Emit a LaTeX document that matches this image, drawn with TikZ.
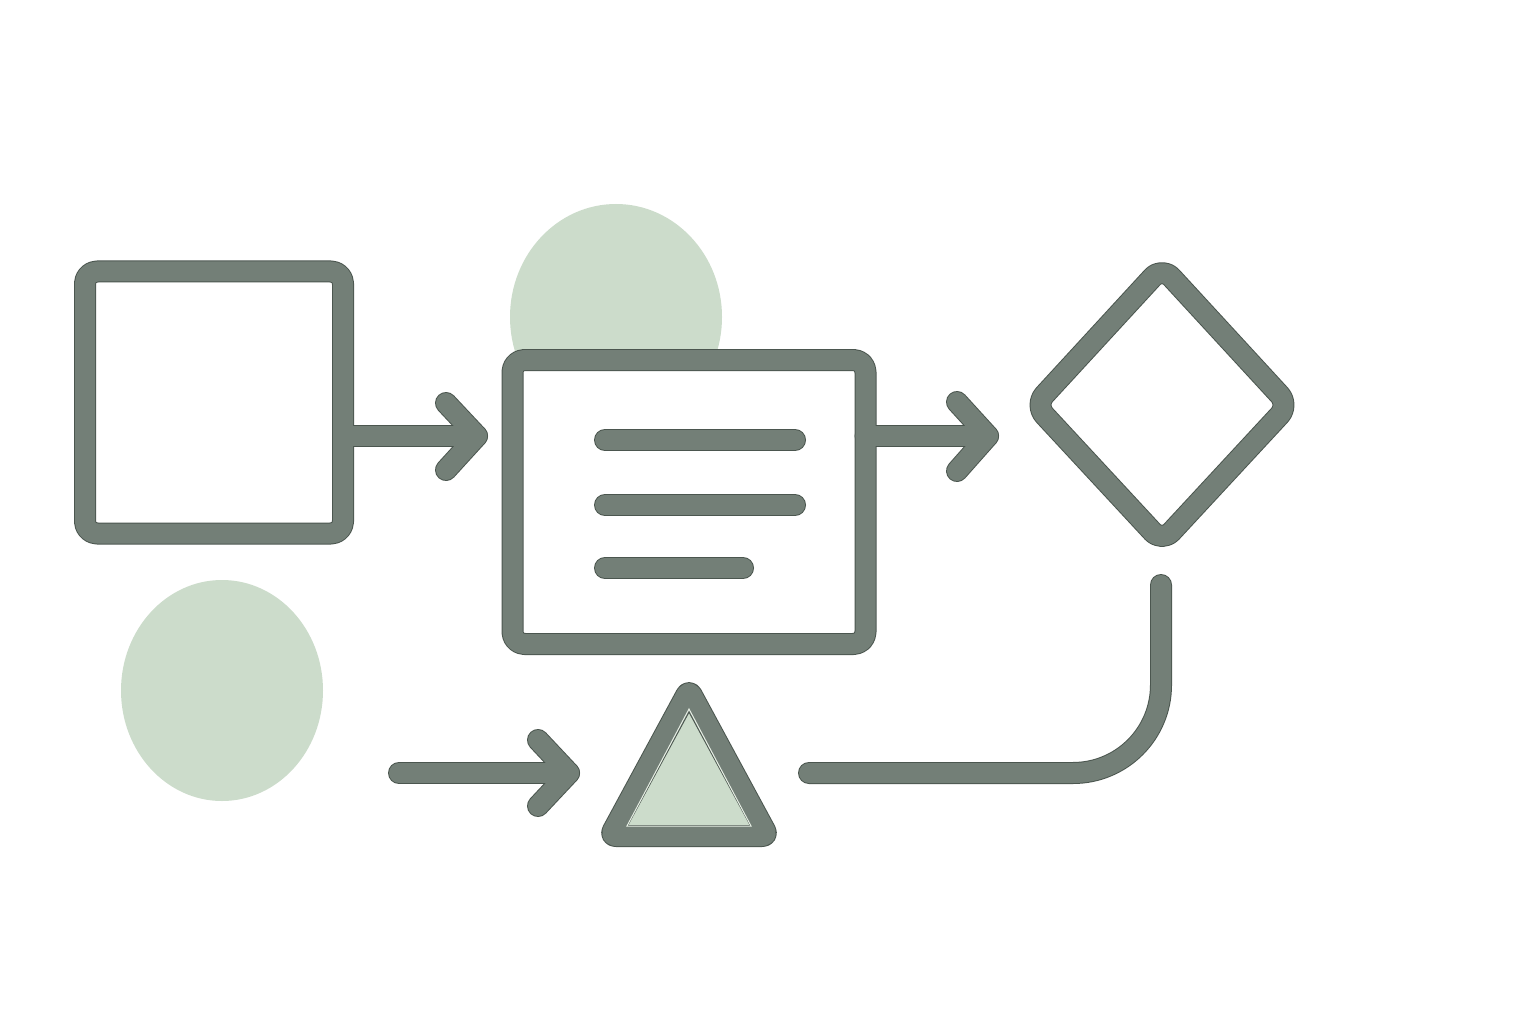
\documentclass[tikz,border=0pt]{standalone}
\usetikzlibrary{calc,shapes.geometric}
\definecolor{strk}{HTML}{737F77}
\definecolor{edge}{HTML}{4B564F}
\definecolor{leaf}{HTML}{CCDCCB}
\definecolor{pale}{HTML}{E6EEE4}
\tikzset{
  outerpass/.style={draw=edge,line width=22pt,line cap=round,line join=round},
  innerpass/.style={draw=strk,line width=20pt,line cap=round,line join=round},
  frame/.style={rectangle,inner sep=0pt,outer sep=0pt,draw=none},
  blob/.style={ellipse,fill=leaf,draw=none,inner sep=0pt,outer sep=0pt},
}
\newcommand\allstrokes[1]{%
  % boxes
  \draw[#1,rounded corners=12pt] (box1.north west) rectangle (box1.south east);
  \draw[#1,rounded corners=12pt] (box2.north west) rectangle (box2.south east);
  % text bars
  \draw[#1] (barA1) -- (barA2);
  \draw[#1] (barB1) -- (barB2);
  \draw[#1] (barC1) -- (barC2);
  % arrow box1 -> box2
  \draw[#1] (box1.east |- tipA) -- (tipA);
  \draw[#1] (chA1) -- (tipA) -- (chA2);
  % arrow box2 -> diamond
  \draw[#1] (box2.east |- tipB) -- (tipB);
  \draw[#1] (chB1) -- (tipB) -- (chB2);
  % diamond
  \draw[#1,rounded corners=14pt] (diaT) -- (diaR) -- (diaB) -- (diaL) -- cycle;
  % arrow to triangle
  \draw[#1] (startC) -- (tipC);
  \draw[#1] (chC1) -- (tipC) -- (chC2);
  % triangle
  \draw[#1,rounded corners=6pt] (triL) -- (triA) -- (triR) -- cycle;
  % return line
  \draw[#1,rounded corners=88pt] (lineS) -| (lineE);
}
\begin{document}
\begin{tikzpicture}[x=1pt,y=-1pt]
  \useasboundingbox (0,0) rectangle (1536,1024);
  \fill[white] (0,0) rectangle (1536,1024);

  % coordinates
  \coordinate (tipA) at (477,436);
  \coordinate (chA1) at (446,403);
  \coordinate (chA2) at (446,470);
  \coordinate (tipB) at (988,436);
  \coordinate (chB1) at (957,402);
  \coordinate (chB2) at (957,471);
  \coordinate (barA1) at (605,440);
  \coordinate (barA2) at (795,440);
  \coordinate (barB1) at (605,505);
  \coordinate (barB2) at (795,505);
  \coordinate (barC1) at (605,568);
  \coordinate (barC2) at (743,568);
  \coordinate (diaT) at (1162,267);
  \coordinate (diaR) at (1289,405);
  \coordinate (diaB) at (1162,542);
  \coordinate (diaL) at (1035,405);
  \coordinate (startC) at (399,773);
  \coordinate (tipC) at (569,773);
  \coordinate (chC1) at (538,740);
  \coordinate (chC2) at (538,806);
  \coordinate (triA) at (689,690);
  \coordinate (triL) at (610,836);
  \coordinate (triR) at (768,836);
  \coordinate (lineS) at (809,773);
  \coordinate (lineE) at (1161,585);

  % green circles
  \node[blob,minimum width=212pt,minimum height=226pt] (sunTop) at (616,317) {};
  \node[blob,minimum width=202pt,minimum height=221pt] (sunLow) at (222,690.5) {};

  % boxes (frames)
  \node[frame,minimum width=258pt,minimum height=262pt] (box1) at (214,402.5) {};
  \node[frame,fill=white,minimum width=353pt,minimum height=284pt] (box2) at (689,502) {};

  % triangle fill
  \fill[leaf,rounded corners=6pt] (triL) -- (triA) -- (triR) -- cycle;

  \allstrokes{outerpass}
  \allstrokes{innerpass}

  % pale inner edge of triangle
  \draw[pale,line width=1pt,line join=miter] (627,826) -- (689,709) -- (751,826) -- cycle;
\end{tikzpicture}
\end{document}
